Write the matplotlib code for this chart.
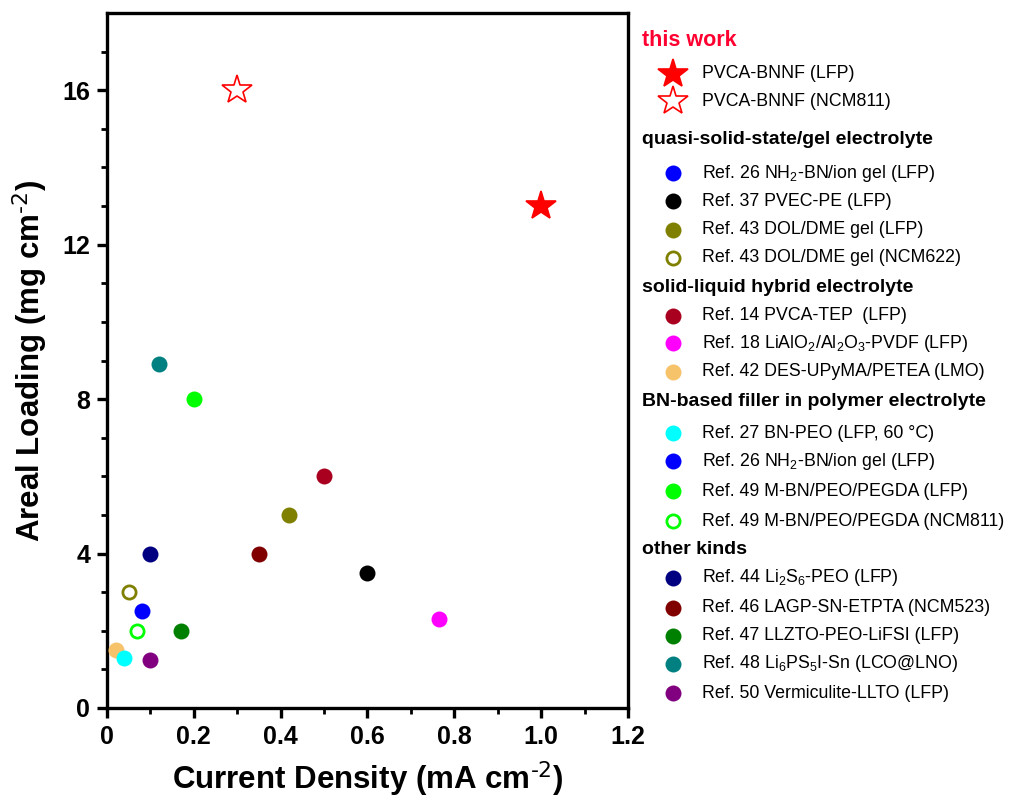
import matplotlib
matplotlib.use("Agg")
import matplotlib.pyplot as plt
from matplotlib.lines import Line2D

plt.rcParams['font.family'] = ['Liberation Sans', 'DejaVu Sans']
plt.rcParams['mathtext.default'] = 'regular'

# ---- data -------------------------------------------------------------
groups = [
    "this work",
    "quasi-solid-state/gel electrolyte",
    "solid-liquid hybrid electrolyte",
    "BN-based filler in polymer electrolyte",
    "other kinds",
]

labels = [
    "PVCA-BNNF (LFP)",
    "PVCA-BNNF (NCM811)",
    "Ref. 26 NH$_2$-BN/ion gel (LFP)",
    "Ref. 37 PVEC-PE (LFP)",
    "Ref. 43 DOL/DME gel (LFP)",
    "Ref. 43 DOL/DME gel (NCM622)",
    "Ref. 14 PVCA-TEP  (LFP)",
    "Ref. 18 LiAlO$_2$/Al$_2$O$_3$-PVDF (LFP)",
    "Ref. 42 DES-UPyMA/PETEA (LMO)",
    "Ref. 27 BN-PEO (LFP, 60 °C)",
    "Ref. 26 NH$_2$-BN/ion gel (LFP)",
    "Ref. 49 M-BN/PEO/PEGDA (LFP)",
    "Ref. 49 M-BN/PEO/PEGDA (NCM811)",
    "Ref. 44 Li$_2$S$_6$-PEO (LFP)",
    "Ref. 46 LAGP-SN-ETPTA (NCM523)",
    "Ref. 47 LLZTO-PEO-LiFSI (LFP)",
    "Ref. 48 Li$_6$PS$_5$I-Sn (LCO@LNO)",
    "Ref. 50 Vermiculite-LLTO (LFP)",
]

current_density = [1.0, 0.3, 0.08, 0.6, 0.42, 0.05, 0.5, 0.765, 0.02,
                   0.04, 0.08, 0.2, 0.07, 0.1, 0.35, 0.17, 0.12, 0.1]
areal_loading = [13.0, 16.0, 2.5, 3.5, 5.0, 3.0, 6.0, 2.3, 1.5,
                 1.3, 2.5, 8.0, 2.0, 4.0, 4.0, 2.0, 8.9, 1.25]

colors = ["#FF0000", "#FF0000", "#0000FF", "#000000", "#808000", "#808000",
          "#A8001E", "#FF00FF", "#F7C36A", "#00FFFF", "#0000FF", "#00FF00",
          "#00FF00", "#000080", "#800000", "#008000", "#008080", "#800080"]
markers = ["*", "*"] + ["o"] * 16
filled = [True, False, True, True, True, False, True, True, True,
          True, True, True, False, True, True, True, True, True]

x_ticks = [0, 0.2, 0.4, 0.6, 0.8, 1.0, 1.2]
x_ticklabels = ["0", "0.2", "0.4", "0.6", "0.8", "1.0", "1.2"]
y_ticks = [0, 4, 8, 12, 16]

# ---- figure -----------------------------------------------------------
fig = plt.figure(figsize=(10.11, 7.99), dpi=100)
ax = fig.add_axes([0.1058, 0.1139, 0.5153, 0.8698])


def marker_style(i):
    if markers[i] == "*":
        ms, mew = 22, 1.2
    else:
        ms, mew = 11.5, 2.0 if not filled[i] else 0.0
    if filled[i]:
        return dict(marker=markers[i], ms=ms, mfc=colors[i], mec=colors[i], mew=mew)
    ms_o = ms if markers[i] == "*" else ms - 2
    return dict(marker=markers[i], ms=ms_o, mfc="white", mec=colors[i], mew=mew)


# draw points (the repeated Ref. 26 entry shares one point)
drawn = set()
for i in range(len(labels)):
    key = (current_density[i], areal_loading[i], colors[i])
    if key in drawn:
        continue
    drawn.add(key)
    ax.plot([current_density[i]], [areal_loading[i]], ls="none", zorder=3,
            clip_on=False, **marker_style(i))

ax.set_xlim(0, 1.2)
ax.set_ylim(0, 18)
ax.set_xticks(x_ticks)
ax.set_xticklabels(x_ticklabels)
ax.set_yticks(y_ticks)
ax.set_xticks([0.1, 0.3, 0.5, 0.7, 0.9, 1.1], minor=True)
ax.set_yticks([v for v in range(1, 18) if v % 4], minor=True)

for sp in ax.spines.values():
    sp.set_linewidth(2.4)
ax.tick_params(which="major", direction="out", length=7, width=2.4,
               labelsize=18, pad=5)
ax.tick_params(which="minor", direction="out", length=4, width=2.0)
for t in ax.get_xticklabels() + ax.get_yticklabels():
    t.set_fontweight("bold")

ax.set_xlabel(r"Current Density (mA cm$^{\text{-2}}$)", fontsize=22.5,
              fontweight="bold", labelpad=8)
ax.set_ylabel(r"Areal Loading (mg cm$^{\text{-2}}$)", fontsize=22.5,
              fontweight="bold", labelpad=9)

# ---- grouped legend ---------------------------------------------------
W, H = 1011.0, 799.0
header_x = 642 / W
marker_x = 673 / W
text_x = 702 / W
header_rows = [41, 139, 288, 402, 550]
entry_rows = [74, 101, 173, 201, 230, 258, 316, 343, 372,
              433, 461, 491, 521, 578, 608, 636, 664, 693]

for g, name in enumerate(groups):
    yf = 1 - header_rows[g] / H
    if g == 0:
        fig.text(header_x, yf, name, color="#FF0030", fontsize=15.5,
                 fontweight="bold", va="center", ha="left")
    else:
        fig.text(header_x, yf, name, color="black", fontsize=14,
                 fontweight="bold", va="center", ha="left")

for i, lab in enumerate(labels):
    yf = 1 - entry_rows[i] / H
    fig.add_artist(Line2D([marker_x], [yf], transform=fig.transFigure,
                          ls="none", **marker_style(i)))
    fig.text(text_x, yf, lab, fontsize=12.8, va="center", ha="left")

fig.savefig("out.png", dpi=100)
